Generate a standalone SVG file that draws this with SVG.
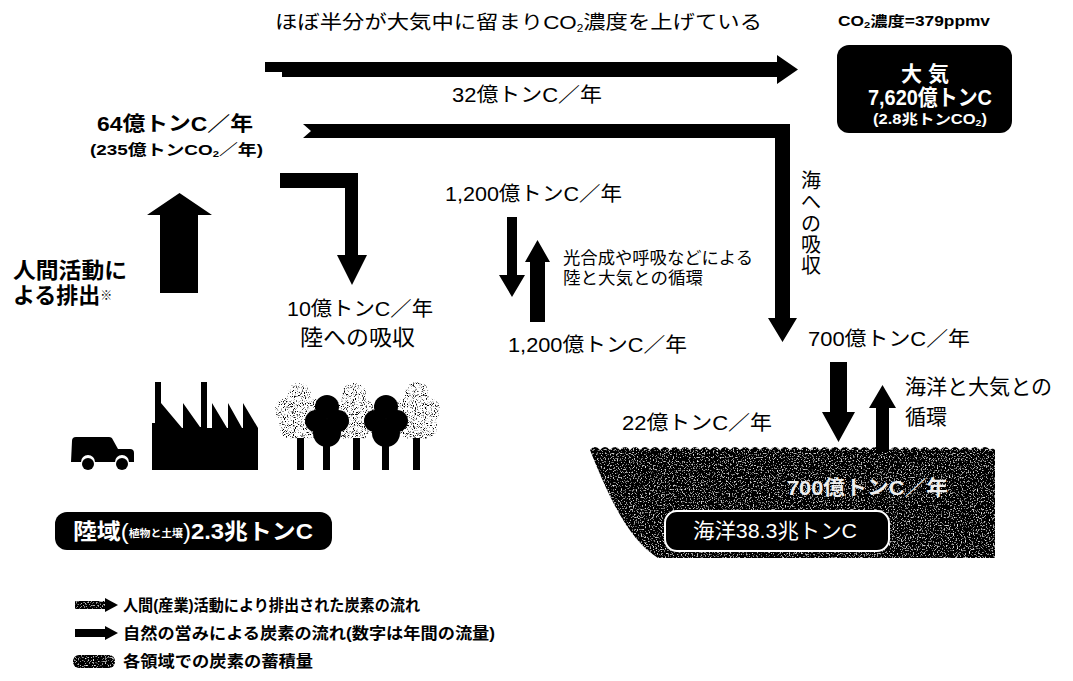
<svg xmlns="http://www.w3.org/2000/svg" width="1073" height="681" viewBox="0 0 1073 681">
  <style>
    .t { font-family: "Liberation Sans", "Noto Sans CJK JP", "Noto Sans CJK SC", sans-serif; fill: #000; }
    .b { font-weight: bold; }
    .w { fill: #fff; }
    .arrow { fill: #000; }
  </style>
  <defs>
    <!-- dark body with light speckles (ocean, storage pill) -->
    <filter id="grain" x="0" y="0" width="100%" height="100%">
      <feTurbulence type="fractalNoise" baseFrequency="0.75" numOctaves="1" seed="7" result="noise"/>
      <feColorMatrix in="noise" type="matrix" values="0 0 0 0 1  0 0 0 0 1  0 0 0 0 1  4 0 0 0 -2.25" result="specks"/>
      <feComposite in="specks" in2="SourceGraphic" operator="in" result="clipped"/>
      <feMerge><feMergeNode in="SourceGraphic"/><feMergeNode in="clipped"/></feMerge>
    </filter>
    <!-- grey halftone for background tree crowns -->
    <filter id="stipple" x="-5%" y="-5%" width="110%" height="110%">
      <feTurbulence type="fractalNoise" baseFrequency="1.1" numOctaves="1" seed="3" result="noise"/>
      <feColorMatrix in="noise" type="matrix" values="0 0 0 0 0  0 0 0 0 0  0 0 0 0 0  6 0 0 0 -3.2" result="dots"/>
      <feComposite in="dots" in2="SourceGraphic" operator="in"/>
    </filter>
  </defs>

  <rect width="1073" height="681" fill="#fff"/>

  <!-- headline -->
  <text class="t" x="275" y="29" font-size="19" textLength="487" lengthAdjust="spacingAndGlyphs">ほぼ半分が大気中に留まりCO<tspan font-size="10" dy="3">2</tspan><tspan dy="-3">濃度を上げている</tspan></text>

  <!-- atmosphere -->
  <g id="atmosphere">
    <text class="t b" x="838" y="26" font-size="14" textLength="152" lengthAdjust="spacingAndGlyphs">CO<tspan font-size="9" dy="2">2</tspan><tspan dy="-2">濃度=379ppmv</tspan></text>
    <rect x="837" y="45" width="175" height="88" rx="12" fill="#000"/>
    <text class="t b w" x="925" y="81" font-size="21" text-anchor="middle">大 気</text>
    <text class="t b w" x="868" y="105" font-size="22" textLength="124" lengthAdjust="spacingAndGlyphs">7,620億トンC</text>
    <text class="t b w" x="873" y="124" font-size="14" textLength="114" lengthAdjust="spacingAndGlyphs">(2.8兆トンCO<tspan font-size="9" dy="2">2</tspan><tspan dy="-2">)</tspan></text>
  </g>

  <!-- emissions -->
  <g id="emissions">
    <text class="t b" x="97" y="131" font-size="20" textLength="156" lengthAdjust="spacingAndGlyphs">64億トンC／年</text>
    <text class="t b" x="90" y="155" font-size="15" textLength="173" lengthAdjust="spacingAndGlyphs">(235億トンCO<tspan font-size="9" dy="2">2</tspan><tspan dy="-2">／年)</tspan></text>
    <text class="t b" x="13" y="278" font-size="22" textLength="114" lengthAdjust="spacingAndGlyphs">人間活動に</text>
    <text class="t b" x="13" y="303" font-size="22">よる排出<tspan font-size="12" font-weight="normal" dy="-3">※</tspan></text>
  </g>

  <!-- land -->
  <g id="land">
    <!-- car -->
    <path d="M72,441 Q72,437 76,437 H109 Q112,437 113,440 L118,449 H130 Q134,449 134,453 V462 H129 A7,7 0 0 0 115,462 H95 A7,7 0 0 0 81,462 H71 Z" fill="#000"/>
    <circle cx="88" cy="464" r="6" fill="#000"/>
    <circle cx="122" cy="464" r="6" fill="#000"/>
    <!-- factory -->
    <path d="M152,470 V423 H155 V382 H161 V403 L182,428 H183 V403 L200,427 H201 V382 H207 V428 H212 V403 L227,428 H228 V403 L242,428 H243 V403 L258,428 V470 Z" fill="#000"/>
    <!-- background crowns -->
    <g filter="url(#stipple)" fill="#000">
      <circle cx="299" cy="395" r="12"/><circle cx="287" cy="410" r="12"/><circle cx="311" cy="410" r="12"/>
      <circle cx="292" cy="426" r="13"/><circle cx="308" cy="426" r="13"/><circle cx="299" cy="412" r="14"/>
      <circle cx="354" cy="395" r="12"/><circle cx="345" cy="410" r="11"/><circle cx="363" cy="410" r="11"/>
      <circle cx="347" cy="427" r="12"/><circle cx="361" cy="427" r="12"/>
      <circle cx="417" cy="394" r="12"/><circle cx="406" cy="410" r="12"/><circle cx="428" cy="410" r="12"/>
      <circle cx="410" cy="427" r="12"/><circle cx="425" cy="427" r="12"/>
    </g>
    <!-- trunks -->
    <g fill="#000">
      <rect x="297" y="438" width="7" height="32"/>
      <rect x="323" y="438" width="7" height="32"/>
      <rect x="353" y="438" width="7" height="32"/>
      <rect x="382" y="438" width="7" height="32"/>
      <rect x="413" y="438" width="7" height="32"/>
    </g>
    <!-- foreground crowns -->
    <g fill="#000">
      <circle cx="327" cy="407" r="12"/><circle cx="316" cy="421" r="11"/><circle cx="338" cy="421" r="11"/><circle cx="327" cy="433" r="14"/>
      <circle cx="386" cy="407" r="12"/><circle cx="375" cy="421" r="11"/><circle cx="397" cy="421" r="11"/><circle cx="386" cy="433" r="14"/>
    </g>
    <rect x="55" y="512" width="277" height="38" rx="12" fill="#000"/>
    <text class="t b w" x="73" y="539" font-size="22" textLength="240" lengthAdjust="spacingAndGlyphs">陸域<tspan font-weight="normal">(</tspan><tspan font-size="10" dy="-2">植物と土壌</tspan><tspan font-weight="normal" dy="2">)</tspan>2.3兆トンC</text>
    <text class="t" x="287" y="316" font-size="20" textLength="146" lengthAdjust="spacingAndGlyphs">10億トンC／年</text>
    <text class="t" x="300" y="345" font-size="22" textLength="115" lengthAdjust="spacingAndGlyphs">陸への吸収</text>
  </g>

  <!-- land-atmosphere exchange -->
  <g id="land-cycle">
    <text class="t" x="445" y="201" font-size="20" textLength="177" lengthAdjust="spacingAndGlyphs">1,200億トンC／年</text>
    <text class="t" x="563" y="264" font-size="17" textLength="190" lengthAdjust="spacingAndGlyphs">光合成や呼吸などによる</text>
    <text class="t" x="563" y="284" font-size="17" textLength="140" lengthAdjust="spacingAndGlyphs">陸と大気との循環</text>
    <text class="t" x="508" y="352" font-size="20" textLength="179" lengthAdjust="spacingAndGlyphs">1,200億トンC／年</text>
  </g>

  <!-- ocean -->
  <g id="ocean">
    <path filter="url(#grain)" fill="#000" d="M590,450 q5,-6 10,0 q5,-6 10,0 q5,-6 10,0 q5,-6 10,0 q5,-6 10,0 q5,-6 10,0 q5,-6 10,0 q5,-6 10,0 q5,-6 10,0 q5,-6 10,0 q5,-6 10,0 q5,-6 10,0 q5,-6 10,0 q5,-6 10,0 q5,-6 10,0 q5,-6 10,0 q5,-6 10,0 q5,-6 10,0 q5,-6 10,0 q5,-6 10,0 q5,-6 10,0 q5,-6 10,0 q5,-6 10,0 q5,-6 10,0 q5,-6 10,0 q5,-6 10,0 q5,-6 10,0 q5,-6 10,0 q5,-6 10,0 q5,-6 10,0 q5,-6 10,0 q5,-6 10,0 q5,-6 10,0 q5,-6 10,0 q5,-6 10,0 q5,-6 10,0 q5,-6 10,0 q5,-6 10,0 q5,-6 10,0 q5,-6 10,0 q2.5,-3 5,0 V558 H658 C630,540 612,505 590,450 Z"/>
    <text class="t b" x="787" y="495" font-size="20" textLength="161" lengthAdjust="spacingAndGlyphs" style="fill:#eee">700億トンC／年</text>
    <rect x="665" y="511" width="224" height="40" rx="12" fill="#000" stroke="#fff" stroke-width="2"/>
    <text class="t w" x="693" y="538" font-size="21" textLength="164" lengthAdjust="spacingAndGlyphs">海洋38.3兆トンC</text>
    <text class="t" x="622" y="430" font-size="20" textLength="150" lengthAdjust="spacingAndGlyphs">22億トンC／年</text>
    <text class="t" x="808" y="346" font-size="20" textLength="162" lengthAdjust="spacingAndGlyphs">700億トンC／年</text>
    <text class="t" x="905" y="394" font-size="21" textLength="147" lengthAdjust="spacingAndGlyphs">海洋と大気との</text>
    <text class="t" x="905" y="424" font-size="21" textLength="42" lengthAdjust="spacingAndGlyphs">循環</text>
  </g>

  <!-- flows -->
  <g id="connectors">
    <!-- to atmosphere -->
    <path class="arrow" d="M265,62 H777 V55 L798,69.5 L777,84 V77 H282 V72 H265 Z"/>
    <text class="t" x="452" y="102" font-size="20" textLength="150" lengthAdjust="spacingAndGlyphs">32億トンC／年</text>
    <!-- to ocean -->
    <path class="arrow" d="M303,124 H790 V318 H797 L782.5,342 L768,318 H775 V138 H303 L311,131 Z"/>
    <g class="t" font-size="20" text-anchor="middle">
      <text x="811" y="188">海</text>
      <text x="811" y="209">へ</text>
      <text x="811" y="231">の</text>
      <text x="811" y="252">吸</text>
      <text x="811" y="273">収</text>
    </g>
    <!-- to land -->
    <path class="arrow" d="M280,173 H358 V255 H367 L352,285 L337,255 H345 V188 H280 Z"/>
    <!-- emission -->
    <path class="arrow" d="M179.5,193 L212,215 H198 V293 H160 V215 H147 Z"/>
    <!-- land cycle -->
    <path class="arrow" d="M507,217 H517 V275 H525 L512,297 L499,275 H507 Z"/>
    <path class="arrow" d="M537.5,240 L550,262 H545 V322 H530 V262 H525 Z"/>
    <!-- ocean cycle -->
    <path class="arrow" d="M830,362 H847 V412 H855 L838.5,442 L822,412 H830 Z"/>
    <path class="arrow" d="M882.5,385 L896,408 H889 V452 H876 V408 H869 Z"/>
  </g>

  <!-- key -->
  <g id="legend">
    <rect x="75" y="601" width="31" height="8" fill="#000" filter="url(#grain)"/>
    <path d="M105,598 L118,605 L105,612 Z" fill="#000"/>
    <text class="t b" x="123" y="611" font-size="16" textLength="297" lengthAdjust="spacingAndGlyphs">人間(産業)活動により排出された炭素の流れ</text>
    <path d="M75,629 H105 V626 L118,633 L105,640 V637 H75 Z" fill="#000"/>
    <text class="t b" x="123" y="639" font-size="16" textLength="372" lengthAdjust="spacingAndGlyphs">自然の営みによる炭素の流れ(数字は年間の流量)</text>
    <rect x="73" y="655" width="42" height="13" rx="6" fill="#000" filter="url(#grain)"/>
    <text class="t b" x="123" y="667" font-size="16" textLength="190" lengthAdjust="spacingAndGlyphs">各領域での炭素の蓄積量</text>
  </g>
</svg>
